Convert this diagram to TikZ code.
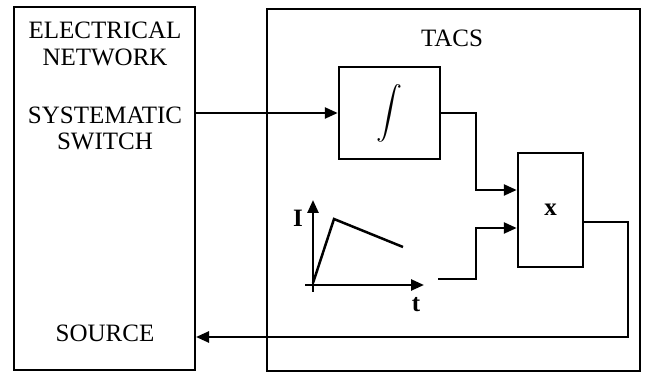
\documentclass[tikz,border=0pt]{standalone}
\usepackage{fontspec}
\setmainfont{Liberation Serif}
\usepackage{tikz}
\usetikzlibrary{arrows.meta, calc}

\begin{document}
\begin{tikzpicture}[
  x=1pt, y=-1pt,
  block/.style={rectangle, draw=black, line width=2pt, inner sep=0pt},
  label/.style={font=\fontsize{25}{28}\selectfont, inner sep=0pt},
  line/.style={line width=2.5pt},
  arrow/.style={line width=2.5pt, -{Triangle[length=13pt, width=11pt]}}
]
\useasboundingbox (0,0) rectangle (646,374);

% the two big frames
\node (net) [block, minimum width=181pt, minimum height=363pt] at (104.5,188.5) {};
\node (tacs) [block, minimum width=373pt, minimum height=362pt] at (453.5,190) {};

\node (elec) [label] at (105,30) {ELECTRICAL};
\node (netw) [label] at (105,57) {NETWORK};
\node (sys) [label] at (105,115) {SYSTEMATIC};
\node (sw) [label] at (105,141) {SWITCH};
\node (src) [label] at (105,333) {SOURCE};
\node (title) [label] at (452,38) {TACS};

% blocks inside TACS
\node (integ) [block, line width=2.5pt, minimum width=101pt, minimum height=92pt] at (389.5,113) {\scalebox{2.6}{$\displaystyle\int$}};
\node (mult) [block, line width=2.5pt, minimum width=65pt, minimum height=114pt] at (550.5,210) {\fontsize{25}{28}\selectfont\bfseries x};

% current ramp
\draw [arrow] (305,285) -- (424,285);
\draw [arrow] (313,292) -- (313,200);
\draw [line] (313,283) -- (334,219) -- (403,247);
\node (ilab) [label, font=\fontsize{25}{28}\selectfont\bfseries] at (298,218) {I};
\node (tlab) [label, font=\fontsize{25}{28}\selectfont\bfseries] at (416,305) {t};
\coordinate (ramp) at (438,279);

% signals
\draw [arrow] (net.east |- integ.west) -- (integ.west);
\draw [arrow] (integ.east) -| (476,190) -- (mult.west |- 0,190);
\draw [arrow] (ramp) -| (476,228) -- (mult.west |- 0,228);
\draw [arrow] ([yshift=-12pt]mult.east) -| (628,337) -- (net.east |- 0,337);
\end{tikzpicture}
\end{document}
